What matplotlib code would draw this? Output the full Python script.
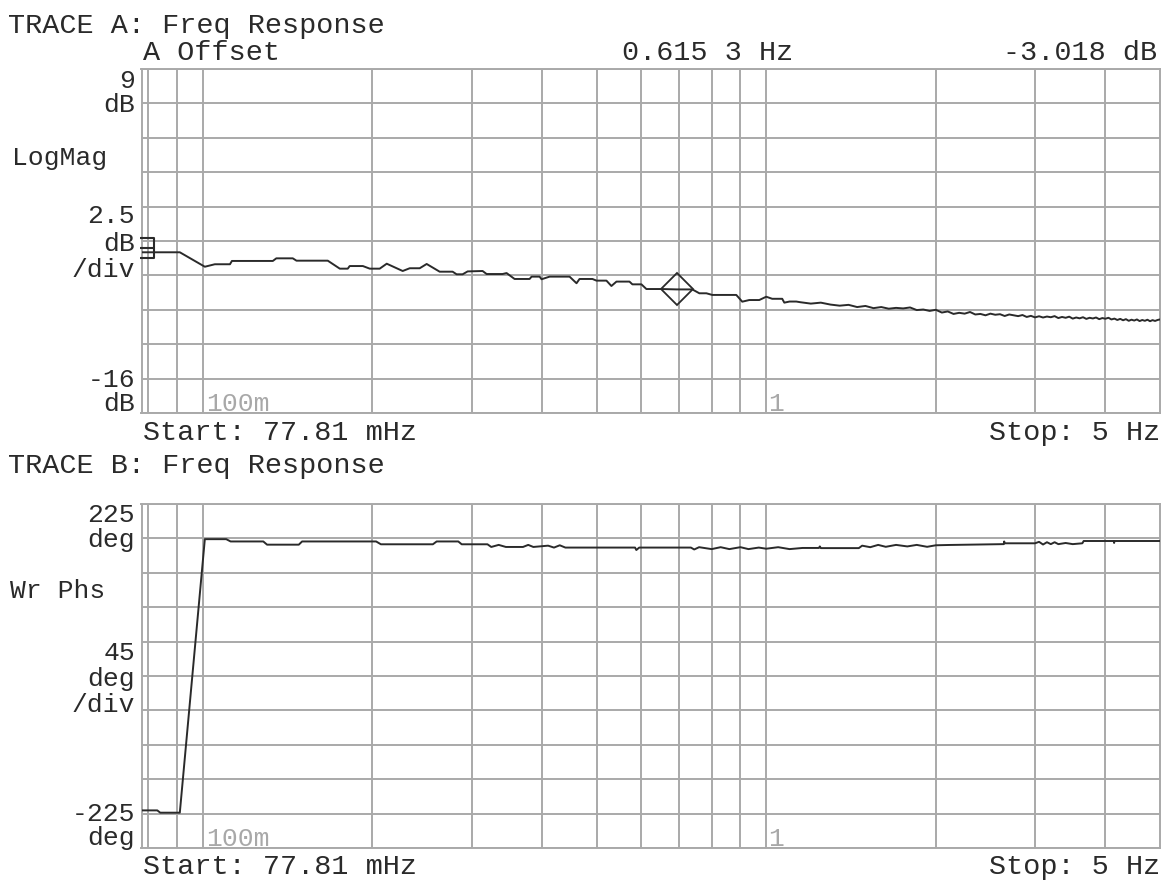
import numpy as np
import matplotlib
matplotlib.use("Agg")
import matplotlib.pyplot as plt
from matplotlib.path import Path
from matplotlib.ticker import NullLocator

# ---- sweep and display settings ----
start_hz, stop_hz = 0.07781, 5.0
mag_top_db, mag_bottom_db, mag_divs = 9.0, -16.0, 10
phase_top_deg, phase_bottom_deg, phase_divs = 225.0, -225.0, 10
grid_freqs_hz = [0.08, 0.09, 0.1, 0.2, 0.3, 0.4, 0.5, 0.6, 0.7, 0.8, 0.9,
                 1.0, 2.0, 3.0, 4.0]

# ---- offset marker (trace A) ----
offset_ref_hz, offset_ref_db = 0.07781, -4.0
marker_rel_hz, marker_rel_db = 0.6153, -3.018

# ---- trace A: log magnitude ----
mag_freq_hz = [
    0.0778, 0.0910, 0.1008, 0.1050, 0.1117, 0.1126, 0.1331, 0.1350, 0.1444,
    0.1466, 0.1666, 0.1750, 0.1808, 0.1822, 0.1923, 0.1978, 0.2060, 0.2120,
    0.2263, 0.2329, 0.2426, 0.2496, 0.2632, 0.2775, 0.2821, 0.2891, 0.2951,
    0.3137, 0.3189, 0.3404, 0.3460, 0.3575, 0.3801, 0.3833, 0.3960, 0.3992,
    0.4125, 0.4476, 0.4605, 0.4662, 0.4915, 0.4996, 0.5204, 0.5311, 0.5422,
    0.5717, 0.5787, 0.6004, 0.6127, 0.6516, 0.6931, 0.7394, 0.7608, 0.7830,
    0.8022, 0.8848, 0.9066, 0.9330, 0.9718, 1.0000, 1.0247, 1.0675, 1.0767,
    1.1000, 1.1306,
    1.15, 1.20, 1.25, 1.30, 1.35, 1.40, 1.45, 1.50, 1.55, 1.60, 1.65, 1.70,
    1.75, 1.80, 1.85, 1.90, 1.95, 2.00, 2.05, 2.10, 2.15, 2.20, 2.25, 2.30,
    2.35, 2.40, 2.45, 2.50, 2.55, 2.60, 2.65, 2.70, 2.75, 2.80, 2.85, 2.90,
    2.95, 3.00, 3.05, 3.10, 3.15, 3.20, 3.25, 3.30, 3.35, 3.40, 3.45, 3.50,
    3.55, 3.60, 3.65, 3.70, 3.75, 3.80, 3.85, 3.90, 3.95, 4.00, 4.05, 4.10,
    4.15, 4.20, 4.25, 4.30, 4.35, 4.40, 4.45, 4.50, 4.55, 4.60, 4.65, 4.70,
    4.75, 4.80, 4.85, 4.90, 4.95, 5.00,
]
mag_db = [
    -4.32, -4.32, -5.37, -5.19, -5.19, -4.95, -4.95, -4.76, -4.76,
    -4.93, -4.93, -5.51, -5.51, -5.32, -5.32, -5.51, -5.51, -5.15,
    -5.68, -5.48, -5.48, -5.17, -5.73, -5.73, -5.92, -5.92, -5.71,
    -5.68, -5.90, -5.90, -5.83, -6.26, -6.26, -6.09, -6.09, -6.28,
    -6.09, -6.09, -6.57, -6.26, -6.26, -6.38, -6.38, -6.77, -6.45,
    -6.45, -6.65, -6.65, -6.99, -6.99, -7.018, -7.02, -7.30, -7.30,
    -7.42, -7.42, -7.91, -7.79, -7.79, -7.55, -7.70, -7.70, -7.98,
    -7.90, -7.90,
    -7.95, -8.05, -7.98, -8.12, -8.20, -8.14, -8.30, -8.22, -8.38, -8.30,
    -8.42, -8.36, -8.40, -8.33, -8.52, -8.48, -8.58, -8.50, -8.70, -8.62,
    -8.80, -8.72, -8.78, -8.66, -8.84, -8.80, -8.90, -8.78, -8.86, -8.82,
    -8.95, -8.84, -8.90, -8.96, -8.88, -9.02, -8.94, -9.05, -8.97, -9.06,
    -8.99, -9.04, -8.96, -9.10, -9.02, -9.08, -9.00, -9.14, -9.06, -9.12,
    -9.04, -9.16, -9.08, -9.13, -9.06, -9.18, -9.10, -9.15, -9.08, -9.20,
    -9.14, -9.24, -9.16, -9.26, -9.18, -9.30, -9.22, -9.28, -9.20, -9.32,
    -9.24, -9.30, -9.22, -9.33, -9.25, -9.31, -9.24, -9.20,
]

# ---- trace B: wrapped phase ----
phase_freq_hz = [
    0.0778, 0.0830, 0.0840, 0.0910, 0.1008, 0.1100, 0.1120, 0.1280, 0.1300,
    0.1480, 0.1500, 0.2030, 0.2070, 0.2560, 0.2600, 0.2840, 0.2880, 0.3200,
    0.3250, 0.3350, 0.3450, 0.3700, 0.3780, 0.3860, 0.4100, 0.4200, 0.4300,
    0.4400, 0.5850, 0.5880, 0.5950, 0.7350, 0.7450, 0.7600, 0.8000, 0.8300,
    0.8600, 0.9000, 0.9300, 0.9700, 1.0000, 1.0500, 1.1000, 1.1600, 1.2400,
    1.2450, 1.2500, 1.4600, 1.4800, 1.5300, 1.5800, 1.6300, 1.7000, 1.7800,
    1.8500, 1.9300, 2.0000, 2.1100, 2.6400, 2.6450, 2.6500, 3.0000, 3.0500,
    3.1000, 3.1500, 3.2000, 3.2500, 3.3000, 3.4000, 3.5000, 3.6400, 3.6600,
    4.1400, 4.1450, 4.1500, 5.0000,
]
phase_deg = [
    -175.8, -175.8, -178.8, -178.8, 179.0, 179.0, 176.0, 176.0, 171.8,
    171.8, 176.0, 176.0, 172.3, 172.3, 176.0, 176.0, 172.3, 172.3,
    168.8, 171.5, 168.8, 168.8, 171.5, 168.8, 170.5, 168.0, 171.0,
    168.0, 168.0, 164.8, 168.0, 168.0, 165.5, 168.5, 166.0, 168.5,
    166.0, 168.5, 166.0, 168.0, 166.5, 168.5, 166.0, 167.5, 167.5,
    169.5, 167.3, 167.3, 170.5, 168.5, 171.5, 169.0, 171.5, 169.5,
    171.5, 169.0, 171.0, 171.4, 172.5, 176.0, 173.6, 173.6, 175.5,
    172.0, 175.0, 172.5, 175.0, 172.5, 174.0, 172.5, 173.6, 176.6,
    176.6, 174.0, 176.6, 176.6,
]

# ---- styling ----
W, H = 1172, 882
GRID = "#a9a9a9"
INK = "#2a2a2a"
MONO = ["Liberation Mono", "DejaVu Sans Mono"]
FS = 20.5      # header / footer lines
FS_SIDE = 19   # stacked scale labels on the left

fig = plt.figure(figsize=(W / 100, H / 100), dpi=100)
fig.patch.set_facecolor("white")


def fx(x):
    return x / W


def fy(y):
    return 1 - y / H


def label(x, y, s, ha="left", color=INK, size=FS):
    fig.text(fx(x), fy(y), s, ha=ha, va="baseline", family=MONO,
             fontsize=size, color=color)


def side(y, s):
    label(135, y, s, ha="right", size=FS_SIDE)


def make_axes(top_px, bottom_px, ylo, yhi, ndiv):
    left_px, right_px = 141.5, 1160.0
    ax = fig.add_axes([fx(left_px), fy(bottom_px),
                       (right_px - left_px) / W, (bottom_px - top_px) / H])
    ax.set_xscale("log")
    ax.set_xlim(start_hz, stop_hz)
    ax.set_ylim(ylo, yhi)
    ax.set_xticks(grid_freqs_hz)
    ax.xaxis.set_minor_locator(NullLocator())
    ax.set_yticks(np.linspace(ylo, yhi, ndiv + 1))
    ax.tick_params(length=0, labelbottom=False, labelleft=False)
    ax.grid(True, color=GRID, linewidth=1.4)
    ax.set_axisbelow(True)
    for sp in ax.spines.values():
        sp.set_color(GRID)
        sp.set_linewidth(1.4)
    ax.set_facecolor("white")
    return ax


# ---- trace A ----
axA = make_axes(69, 413, mag_bottom_db, mag_top_db, mag_divs)
axA.plot(mag_freq_hz, mag_db, color=INK, linewidth=1.4, zorder=3)

# offset reference: a bracket with a centre bar, anchored at the start frequency
bracket = Path([(-0.15, 1), (1.3, 1), (1.3, -1), (-0.15, -1),
                (-0.15, 0), (1.3, 0)],
               [Path.MOVETO, Path.LINETO, Path.LINETO, Path.LINETO,
                Path.MOVETO, Path.LINETO])
axA.plot([offset_ref_hz], [offset_ref_db], marker=bracket, markersize=18,
         markerfacecolor="none", markeredgecolor=INK, markeredgewidth=1.5,
         linestyle="none", clip_on=False, zorder=4)

marker_hz = offset_ref_hz + marker_rel_hz
marker_db = offset_ref_db + marker_rel_db
axA.plot([marker_hz], [marker_db], marker="D", markersize=16,
         markerfacecolor="none", markeredgecolor=INK, markeredgewidth=1.3,
         linestyle="none", zorder=4)

# ---- trace B ----
axB = make_axes(504, 848, phase_bottom_deg, phase_top_deg, phase_divs)
axB.plot(phase_freq_hz, phase_deg, color=INK, linewidth=1.4, zorder=3)

# ---- annotations ----
label(8, 33, "TRACE A: Freq Response")
label(143, 60, "A Offset")
label(622, 60, f"{marker_rel_hz:.3f} {int(round(marker_rel_hz * 1e4)) % 10} Hz")
label(1157, 60, f"{marker_rel_db:.3f} dB", ha="right")
side(88, f"{mag_top_db:g}")
side(112, "dB")
label(12, 165, "LogMag", size=FS_SIDE)
side(223, f"{(mag_top_db - mag_bottom_db) / mag_divs:g}")
side(251, "dB")
side(277, "/div")
side(387, f"{mag_bottom_db:g}")
side(411, "dB")
label(206, 411, "100m", color="#a8a8a8", size=FS_SIDE)
label(768, 411, "1", color="#a8a8a8", size=FS_SIDE)
label(143, 440, f"Start: {start_hz * 1000:.2f} mHz")
label(1160, 440, f"Stop: {stop_hz:g} Hz", ha="right")

label(8, 473, "TRACE B: Freq Response")
side(522, f"{phase_top_deg:g}")
side(547, "deg")
label(10, 598, "Wr Phs", size=FS_SIDE)
side(660, f"{(phase_top_deg - phase_bottom_deg) / phase_divs:g}")
side(686, "deg")
side(712, "/div")
side(821, f"{phase_bottom_deg:g}")
side(845, "deg")
label(206, 846, "100m", color="#a8a8a8", size=FS_SIDE)
label(768, 846, "1", color="#a8a8a8", size=FS_SIDE)
label(143, 874, f"Start: {start_hz * 1000:.2f} mHz")
label(1160, 874, f"Stop: {stop_hz:g} Hz", ha="right")

fig.savefig("out.png", dpi=100, facecolor="white")
